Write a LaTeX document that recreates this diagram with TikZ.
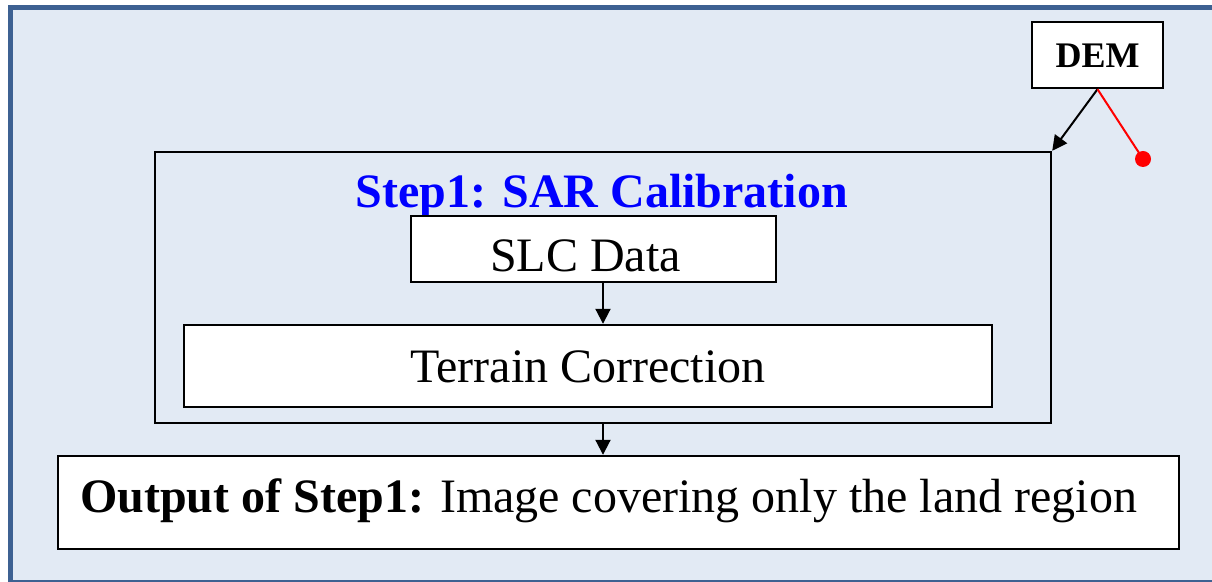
\documentclass[tikz,border=0pt]{standalone}
\usepackage{fontspec}
\setmainfont{Liberation Serif}
\usetikzlibrary{arrows.meta}
\definecolor{panelfill}{HTML}{E2EAF4}
\definecolor{panelframe}{HTML}{3D6192}
\begin{document}
\begin{tikzpicture}[x=0.5pt,y=-0.5pt,
  box/.style={draw=black,fill=white,line width=1.2pt,inner sep=0pt},
  bigtext/.style={font=\fontsize{24}{28}\selectfont},
  flow/.style={-{Triangle[length=7.5pt,width=7.5pt]},line width=1pt},
  ]
\useasboundingbox (0,0) rectangle (1212,582);
\clip (0,0) rectangle (1212,582);
% background panel
\draw[panelframe,fill=panelfill,line width=2.5pt] (10.5,8) rectangle (1240,583);

% DEM input
\node[box,minimum width=65.5pt,minimum height=33pt,text height=12.7pt,text depth=0pt,
      font=\fontsize{18}{20}\selectfont\bfseries] (dem) at (1097.5,55) {DEM};

% Step 1 frame and title
\node[draw=black,line width=1.2pt,minimum width=448pt,minimum height=135.5pt,inner sep=0pt]
  (step1) at (603,287.5) {};
\node[anchor=base,text=blue,font=\fontsize{24}{28}\selectfont\bfseries]
  (title) at (602,208) {Step1: SAR Calibration};

% processing boxes
\node[box,bigtext,minimum width=182.5pt,minimum height=33pt,text height=23pt,text depth=0pt]
  (slc) at (593.5,249) {\hspace*{-8pt}SLC Data};
\node[box,bigtext,minimum width=404pt,minimum height=41pt,text height=17pt,text depth=0pt]
  (tc) at (588,366) {Terrain Correction};

% output box
\node[box,bigtext,inner xsep=11pt,minimum height=46.5pt,text height=10.5pt,text depth=0pt]
  (out) at (618.5,502.5)
  {\makebox[538.5pt][l]{\textbf{Output of Step1:} Image covering only the land region}};

% connectors
\draw[flow] (step1.south |- slc.south) -- (step1.south |- tc.north);
\draw[flow] (step1.south) -- (step1.south |- out.north);
\draw[flow] (dem.south) -- (step1.north east);
\coordinate (redend) at (1143,159);
\draw[red,line width=1pt] (dem.south) -- (redend);
\fill[red] (redend) circle (4pt);
\end{tikzpicture}
\end{document}
